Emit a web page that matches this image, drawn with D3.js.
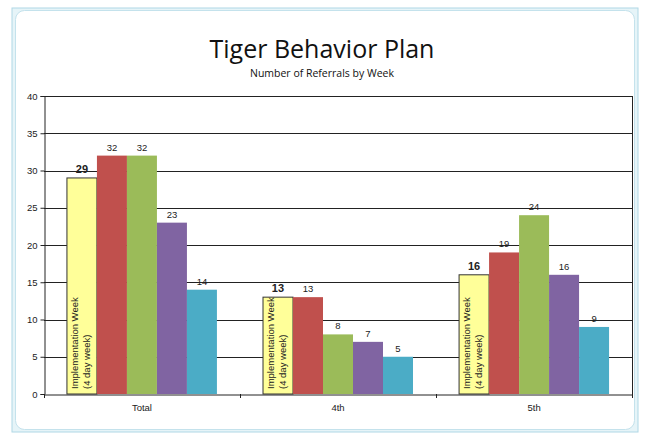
<!DOCTYPE html>
<html>
<head>
<meta charset="utf-8">
<script src="https://cdn.jsdelivr.net/npm/d3@7"></script>
<style>
  body { margin: 0; background: #fff; }
  text { font-family: Arial, "Liberation Sans", sans-serif; }
</style>
</head>
<body>
<div id="plot"></div>
<script>
// chart data
const categories = ["Total", "4th", "5th"];
const series = ["Implementation", "Week 2", "Week 3", "Week 4", "Week 5"];
const values = [
  [29, 32, 32, 23, 14],
  [13, 13, 8, 7, 5],
  [16, 19, 24, 16, 9]
];
const yTicks = [0, 5, 10, 15, 20, 25, 30, 35, 40];
const colors = ["#ffff99", "#c0504d", "#9bbb59", "#8064a2", "#4bacc6"];

const width = 645,
  height = 434;
const plot = { left: 44, right: 632, top: 96, bottom: 394 };

const svg = d3.select("#plot").append("svg").attr("width", width).attr("height", height);

// frame like an embedded chart object
svg.append("rect").attr("x", 12).attr("y", 8).attr("width", 626).attr("height", 424)
  .attr("fill", "#e6f4f8").attr("stroke", "#b0d8e6");
svg.append("rect").attr("x", 15.5).attr("y", 10.5).attr("width", 619).attr("height", 419)
  .attr("rx", 9).attr("fill", "#fff").attr("stroke", "#c4e2ec");

// title
svg.append("text").attr("x", 322).attr("y", 58).attr("text-anchor", "middle")
  .style("font-family", "'Open Sans', 'Noto Sans', sans-serif").style("font-size", "25px")
  .attr("fill", "#111").text("Tiger Behavior Plan");
svg.append("text").attr("x", 322).attr("y", 77).attr("text-anchor", "middle")
  .style("font-family", "'Open Sans', 'Noto Sans', sans-serif").style("font-size", "10.5px")
  .attr("fill", "#111").text("Number of Referrals by Week");

// scales
const x0 = d3.scaleBand().domain(categories).range([plot.left, plot.right])
  .paddingInner(0.235).paddingOuter(0.117);
const x1 = d3.scaleBand().domain(series).range([0, x0.bandwidth()]);
const y = d3.scaleLinear().domain([0, 40]).range([plot.bottom, plot.top]);

// gridlines
svg.append("g").selectAll("line").data(yTicks.slice(1)).join("line")
  .attr("x1", plot.left).attr("x2", plot.right)
  .attr("y1", d => Math.round(y(d)) + 0.5).attr("y2", d => Math.round(y(d)) + 0.5)
  .attr("stroke", "#222").attr("stroke-width", 1);
svg.append("line").attr("x1", plot.right + 0.5).attr("x2", plot.right + 0.5)
  .attr("y1", plot.top).attr("y2", plot.bottom).attr("stroke", "#222");

// bars
const groups = svg.append("g").selectAll("g").data(values).join("g")
  .attr("transform", (d, i) => `translate(${x0(categories[i])},0)`);

groups.selectAll("rect").data(d => d.map((v, j) => ({ v, j }))).join("rect")
  .attr("x", d => x1(series[d.j]))
  .attr("y", d => y(d.v))
  .attr("width", x1.bandwidth())
  .attr("height", d => y(0) - y(d.v))
  .attr("fill", d => colors[d.j])
  .attr("stroke", d => (d.j === 0 ? "#333" : "none"))
  .attr("stroke-width", 1);

// value labels
groups.selectAll("text.val").data(d => d.map((v, j) => ({ v, j }))).join("text")
  .attr("class", "val")
  .attr("x", d => x1(series[d.j]) + x1.bandwidth() / 2)
  .attr("y", d => y(d.v) - 5)
  .attr("text-anchor", "middle")
  .style("font-size", d => (d.j === 0 ? "11px" : "9.5px"))
  .style("font-weight", d => (d.j === 0 ? "bold" : "normal"))
  .attr("fill", "#222")
  .text(d => d.v);

// rotated note in the implementation bar
const note = groups.append("text")
  .attr("transform", d => `translate(${x1(series[0]) + 11},${y(0) - 5}) rotate(-90)`)
  .style("font-size", "9.5px").attr("fill", "#222");
note.append("tspan").attr("x", 0).attr("dy", 0).text("Implementation Week");
note.append("tspan").attr("x", 0).attr("dy", 12).text("(4 day week)");

// y axis
const yAxis = svg.append("g").attr("transform", `translate(${plot.left + 0.5},0)`)
  .call(d3.axisLeft(y).tickValues(yTicks).tickSize(4).tickPadding(3));
yAxis.select(".domain").attr("stroke", "#222");
yAxis.selectAll(".tick line").attr("stroke", "#222");
yAxis.selectAll("text").style("font-size", "9.5px").attr("fill", "#222");

// x axis
const xAxis = svg.append("g").attr("transform", `translate(0,${plot.bottom + 0.5})`)
  .call(d3.axisBottom(x0).tickSize(0).tickPadding(10));
xAxis.select(".domain").attr("stroke", "#222");
xAxis.selectAll("text").style("font-size", "9.5px").attr("fill", "#222");
const bounds = [plot.left, ...categories.map(c => x0(c) + x0.bandwidth() + x0.step() * x0.paddingInner() / 2)];
svg.append("g").selectAll("line").data(bounds).join("line")
  .attr("x1", d => Math.round(d) + 0.5).attr("x2", d => Math.round(d) + 0.5)
  .attr("y1", plot.bottom).attr("y2", plot.bottom + 4).attr("stroke", "#222");
</script>
</body>
</html>
